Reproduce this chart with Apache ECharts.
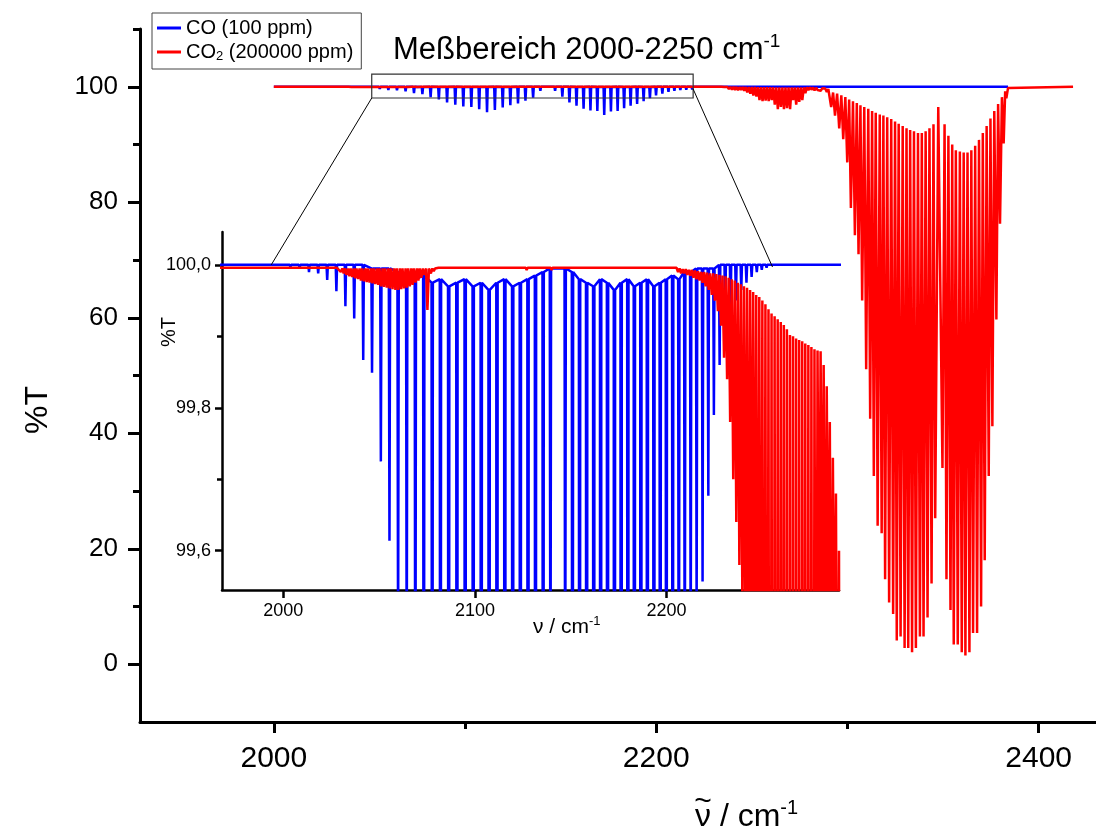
<!DOCTYPE html>
<html><head><meta charset="utf-8">
<script src="https://cdn.jsdelivr.net/npm/echarts@6/dist/echarts.min.js"></script>
<style>html,body{margin:0;padding:0;background:#fff}#c{width:1096px;height:831px}</style>
</head><body><div id="c"></div>
<script>
// ---------- DATA ----------
// CO (100 ppm): line centres (cm-1), transmittance at line centre (%T), level at line shoulders (%T)
const coWn = [1993.9,1998.8,2003.7,2008.5,2013.4,2018.2,2022.9,2027.7,2032.4,2037.0,2041.7,2046.3,2050.9,2055.4,2059.9,2064.4,2068.9,2073.3,2077.7,2082.0,2086.3,2090.6,2094.9,2099.1,2103.3,2107.4,2111.5,2115.6,2119.7,2123.7,2127.7,2131.6,2135.6,2139.4,
  2147.1,2150.9,2154.6,2158.3,2162.0,2165.6,2169.2,2172.8,2176.3,2179.8,2183.2,2186.6,2190.0,2193.4,2196.7,2199.9,2203.2,2206.4,2209.5,2212.6,2215.7,2218.8,2221.8,2224.7,2227.7,2230.6,2233.4,2236.2,2239.0,2241.7,2244.4,2247.1,2249.7,2252.2,2254.8];
const coMin = [99.998,99.998,99.997,99.995,99.99,99.988,99.979,99.963,99.942,99.925,99.867,99.849,99.725,99.614,99.45,99.4,99.19,98.9,98.7,98.2,97.8,97.3,96.9,96.6,96.5,96.1,95.6,96.0,96.4,96.8,97.1,97.6,98.1,99.3,
  99.3,98.3,97.3,96.7,96.2,95.9,95.8,95.1,95.7,95.8,96.3,96.7,97.0,97.5,98.0,98.5,98.8,99.1,99.3,99.42,99.5,99.557,99.677,99.79,99.86,99.9,99.93,99.95,99.965,99.975,99.983,99.99,99.993,99.996,99.998];
const coTop = [100,100,100,100,100,100,100,100,100,100,100,99.995,99.995,99.995,99.99,99.985,99.98,99.985,99.975,99.98,99.97,99.975,99.98,99.97,99.975,99.965,99.975,99.98,99.97,99.975,99.98,99.985,99.99,99.995,
  99.995,99.99,99.98,99.975,99.97,99.98,99.975,99.965,99.975,99.98,99.97,99.975,99.98,99.97,99.975,99.98,99.985,99.98,99.99,99.99,99.995,99.995,99.995,99.995,100,100,100,100,100,100,100,100,100,100,100];
const coStart = [1960, 100];
const coMainStart = [2000, 100];
const coEnd = [2384, 100];

// CO2 (200000 ppm): the trace as read, wavenumber (cm-1) and %T
const co2Wn = [1960,2000,2028,
  2030.0,2030.8,2031.5,2032.2,2033.0,2033.8,2034.5,2035.2,2036.0,2036.8,2037.5,2038.2,2039.0,2039.8,2040.5,2041.2,2042.0,2042.8,2043.5,2044.2,2045.0,2045.8,2046.5,2047.2,2048.0,2048.8,2049.5,2050.2,
  2051.0,2051.8,2052.5,2053.2,2054.0,2054.8,2055.5,2056.2,2057.0,2057.8,2058.5,2059.2,2060.0,2060.8,2061.5,2062.2,2063.0,2063.8,2064.5,2065.2,2066.0,2066.8,2067.5,2068.2,2069.0,2069.8,2070.5,2071.2,
  2072.0,2072.8,2073.5,2074.5,2075.2,2076.0,2077.0,2077.8,2078.5,2079.2,2080.0,2081.0,
  2126.5,2127.0,2127.5,2139.5,2140.0,2140.5,2205.2,
  2206.0,2206.8,2207.6,2208.4,2209.2,2210.0,2210.8,2211.6,2212.4,2213.2,2214.0,2214.8,2215.6,2216.4,2217.2,2218.0,2218.8,2219.6,2220.4,2221.2,2222.0,2222.8,2223.6,2224.4,2225.2,2226.0,2226.8,2227.6,2228.4,2229.2,
  2230.0,2230.8,2231.6,2232.4,2233.2,2234.0,2234.8,2235.6,2236.4,2237.2,2238.0,2238.8,2239.6,2240.4,2241.2,2242.0,2242.8,2243.6,2244.4,2245.2,2246.0,2246.8,2247.6,2248.4,2249.2,2250.0,2250.8,2251.6,2252.4,2253.2,
  2254.0,2254.8,2255.6,2256.4,2257.2,2258.0,2258.8,2259.6,2260.4,2261.2,2262.0,2262.8,2263.6,2264.4,2265.2,2266.0,2266.8,2267.6,2268.4,2269.2,2270.0,2270.8,2271.6,2272.4,2273.2,2274.0,2274.8,2275.6,2276.4,2277.2,
  2278.0,2278.8,2279.6,2280.4,2281.2,2282.0,2282.8,2283.6,2284.4,2285.2,2286.0,2286.8,2287.6,2288.4,2289.2,2290.0,
  2291.5,2292.5,2293.5,2294.6,2295.7,2296.8,2297.8,2298.9,2299.9,2300.9,2301.8,2302.9,2303.9,2304.9,2305.8,2306.8,2307.7,2308.8,2309.8,2310.9,2311.9,2312.9,2313.8,2314.8,2315.8,2316.9,2317.9,2318.8,2319.7,2320.8,
  2321.8,2322.9,2323.9,2324.9,2325.8,2326.8,2327.8,2328.9,2329.9,2330.9,2331.8,2332.8,2333.8,2334.8,2335.8,2336.9,2337.9,2338.9,2339.8,2340.9,2341.9,2342.9,2344.0,2345.0,2345.9,2347.5,2349.7,2350.8,2351.8,2352.8,
  2353.9,2354.8,2355.6,2356.7,2357.7,2358.8,2359.8,2360.8,2361.7,2362.8,2363.8,2364.8,2365.7,2366.8,2367.8,2368.8,2369.9,2370.8,2371.8,2372.8,2373.9,2374.8,2375.8,2376.8,2377.9,2378.8,2379.8,2380.8,2381.7,2382.5,
  2383.1,2384.0,2385.0,2418.0];
const co2T = [99.996,99.996,99.996,
  99.990,99.995,99.988,99.995,99.986,99.995,99.984,99.995,99.983,99.995,99.981,99.995,99.980,99.995,99.978,99.995,99.977,99.995,99.976,99.995,99.975,99.995,99.974,99.995,99.973,99.995,99.972,99.995,
  99.970,99.995,99.969,99.995,99.968,99.995,99.967,99.995,99.966,99.995,99.965,99.995,99.965,99.995,99.966,99.995,99.967,99.995,99.968,99.995,99.970,99.995,99.972,99.995,99.975,99.995,99.978,99.995,
  99.982,99.995,99.986,99.995,99.937,99.995,99.988,99.995,99.991,99.995,99.993,99.996,
  99.996,99.993,99.996,99.996,99.993,99.996,99.996,
  99.990,99.995,99.988,99.994,99.988,99.994,99.986,99.993,99.985,99.993,99.982,99.992,99.980,99.991,99.978,99.990,99.975,99.990,99.970,99.989,99.965,99.988,99.958,99.988,99.950,99.987,99.935,99.986,99.915,99.985,
  99.870,99.984,99.840,99.982,99.780,99.980,99.700,99.978,99.640,99.975,99.580,99.973,99.50,99.970,99.45,99.968,99.40,99.965,99.45,99.962,99.30,99.958,99.00,99.955,98.80,99.950,98.50,99.945,98.30,99.938,
  97.70,99.932,97.50,99.928,97.60,99.924,97.50,99.920,97.70,99.916,96.90,99.910,96.10,99.902,96.50,99.900,96.10,99.897,96.30,99.895,96.10,99.893,97.70,99.890,96.90,99.888,97.40,99.885,97.70,99.882,
  98.90,99.880,99.40,99.879,99.50,99.860,99.35,99.830,99.45,99.780,99.30,99.730,99.40,99.680,99.10,99.600,
  96.5,99.0,95.0,98.8,92.8,98.5,90.9,98.2,86.9,97.8,79.0,97.5,74.3,97.2,71.0,96.8,63.0,96.5,51.1,96.2,42.5,95.8,32.6,95.5,24.0,95.2,22.7,95.0,14.7,94.7,
  10.7,94.4,8.7,94.0,4.1,93.6,4.8,93.2,2.8,92.8,2.8,92.5,2.1,92.3,2.8,92.0,4.8,92.0,4.8,92.3,8.1,92.8,14.0,93.5,25.3,96.5,34.0,93.5,14.7,91.5,
  9.4,90.0,3.4,89.0,3.4,88.8,2.1,88.6,1.5,88.6,2.1,89.0,5.4,89.8,5.4,90.8,10.0,92.0,18.0,93.2,32.6,94.5,41.2,95.8,59.7,97.0,76.3,98.2,90.2,99.2,
  98.0,99.8,100.0,100.0];

// axis ticks / labels
const mainXMajor = [2000, 2200, 2400];
const mainXMinor = [2100, 2300];
const mainYMajor = [0, 20, 40, 60, 80, 100];
const mainYMinor = [10, 30, 50, 70, 90, 110];
const insetXMajor = [2000, 2100, 2200];
const insetYMajor = [99.6, 99.8, 100.0];
const insetYMinor = [99.7, 99.9];

const seriesNames = ['CO', 'CO2'];
// ---------------------------------------------------

const F = 'Liberation Sans, Arial, Helvetica, sans-serif';
const BLUE = '#0000ff', RED = '#ff0000';

const bluePts = [coStart];
for (let i = 0; i < coWn.length; i++) {
  bluePts.push([coWn[i] - 0.35, coTop[i]], [coWn[i], coMin[i]], [coWn[i] + 0.35, coTop[i]]);
}
bluePts.push(coEnd);
const redPts = co2Wn.map((w, i) => [w, co2T[i]]);
const mainBlue = [coMainStart].concat(bluePts.filter(p => p[0] > coMainStart[0]));
const mainRed = redPts.filter(p => p[0] >= 2000);

function xAx(grid, min, max, ticks, len, w, labels, fs, margin, showLine) {
  return {
    type: 'value', gridIndex: grid, min: min, max: max, position: 'bottom', offset: 0,
    axisLine: { show: showLine, onZero: false, lineStyle: { color: '#000', width: w } },
    axisTick: { show: true, inside: false, customValues: ticks, length: len, lineStyle: { color: '#000', width: w } },
    axisLabel: labels ? { show: true, customValues: ticks, fontSize: fs, margin: margin, color: '#000', fontFamily: F, formatter: v => String(v) } : { show: false },
    splitLine: { show: false }, minorTick: { show: false }
  };
}
function yAx(grid, min, max, ticks, len, w, labels, fs, margin, showLine, fmt) {
  return {
    type: 'value', gridIndex: grid, min: min, max: max, position: 'left', offset: 0,
    axisLine: { show: showLine, onZero: false, lineStyle: { color: '#000', width: w } },
    axisTick: { show: true, inside: false, customValues: ticks, length: len, lineStyle: { color: '#000', width: w } },
    axisLabel: labels ? { show: true, customValues: ticks, fontSize: fs, margin: margin, color: '#000', fontFamily: F, formatter: fmt } : { show: false },
    splitLine: { show: false }, minorTick: { show: false }
  };
}

const option = {
  animation: false,
  backgroundColor: '#fff',
  textStyle: { fontFamily: F },
  grid: [
    { left: 140, top: 29, width: 956, height: 693, containLabel: false, outerBoundsMode: 'none' },
    { left: 222, top: 232, width: 617, height: 358, containLabel: false, outerBoundsMode: 'none' }
  ],
  xAxis: [
    xAx(0, 1930, 2430, mainXMajor, 11, 3, true, 30, 22, true),
    xAx(0, 1930, 2430, mainXMinor, 7, 3, false, 0, 0, false),
    xAx(1, 1968, 2290, insetXMajor, 8, 2.5, true, 18, 12, true)
  ],
  yAxis: [
    yAx(0, -10, 110, mainYMajor, 12, 3, true, 26, 22, true, v => String(Math.round(v))),
    yAx(0, -10, 110, mainYMinor, 7, 3, false, 0, 0, false),
    yAx(1, 99.545, 100.046, insetYMajor, 7, 2.5, true, 18, 11, true, v => v.toFixed(1).replace('.', ',')),
    yAx(1, 99.545, 100.046, insetYMinor, 5, 2.5, false, 0, 0, false)
  ],
  legend: {
    show: true, left: 152, top: 13, orient: 'vertical', padding: [5, 8, 6, 5], itemGap: 4,
    itemWidth: 24, itemHeight: 3, icon: 'rect',
    borderColor: '#444', borderWidth: 1, backgroundColor: '#fff',
    data: seriesNames,
    formatter: n => n === 'CO2' ? '{t|CO}{s|2}{t| (200000 ppm)}' : '{t|CO (100 ppm)}',
    textStyle: {
      color: '#000', fontFamily: F, fontSize: 20,
      rich: { t: { fontSize: 20, lineHeight: 22, fontFamily: F, color: '#000' }, s: { fontSize: 13, lineHeight: 12, verticalAlign: 'bottom', fontFamily: F, color: '#000' } }
    }
  },
  series: [
    { name: 'CO', type: 'line', xAxisIndex: 0, yAxisIndex: 0, data: mainBlue, color: BLUE, symbol: 'none', showSymbol: false, lineStyle: { color: BLUE, width: 2.5 }, clip: true, z: 2 },
    { name: 'CO2', type: 'line', xAxisIndex: 0, yAxisIndex: 0, data: mainRed, color: RED, symbol: 'none', showSymbol: false, lineStyle: { color: RED, width: 2.5 }, clip: true, z: 3 },
    { name: 'CO', type: 'line', xAxisIndex: 2, yAxisIndex: 2, data: bluePts, color: BLUE, symbol: 'none', showSymbol: false, lineStyle: { color: BLUE, width: 2.5 }, clip: true, z: 4 },
    { name: 'CO2', type: 'line', xAxisIndex: 2, yAxisIndex: 2, data: redPts, color: RED, symbol: 'none', showSymbol: false, lineStyle: { color: RED, width: 2.5 }, clip: true, z: 5 }
  ]
};

const chart = echarts.init(document.getElementById('c'), null, { renderer: 'canvas', width: 1096, height: 831 });
chart.setOption(option);

// zoom frame in the main plot and connectors to the inset (data coordinates)
const frame = [2051.2, 98.05, 2219.3, 102.2];
const insetLeftEnd = [1993.7, 100.0];
const insetRightEnd = [2255.3, 99.997];
const px = (g, v) => chart.convertToPixel({ gridIndex: g }, v);
const fa = px(0, [frame[0], frame[3]]);
const fb = px(0, [frame[2], frame[1]]);
const lA = px(0, [frame[0], frame[1]]);
const lB = px(1, insetLeftEnd);
const rA = px(0, [frame[2], 99.6]);
const rB = px(1, insetRightEnd);

chart.setOption({
  graphic: [
    { type: 'rect', z: 10, shape: { x: fa[0], y: fa[1], width: fb[0] - fa[0], height: fb[1] - fa[1] }, style: { fill: 'none', stroke: '#333', lineWidth: 1.2 } },
    { type: 'line', z: 10, shape: { x1: lA[0], y1: lA[1], x2: lB[0], y2: lB[1] }, style: { stroke: '#000', lineWidth: 1 } },
    { type: 'line', z: 10, shape: { x1: rA[0], y1: rA[1], x2: rB[0], y2: rB[1] }, style: { stroke: '#000', lineWidth: 1 } },
    { type: 'text', z: 10, x: 393, y: 50, style: { text: '{a|Meßbereich 2000-2250 cm}{b|-1}', verticalAlign: 'middle', align: 'left',
      rich: { a: { fontSize: 31, lineHeight: 36, fontFamily: F, fill: '#000' }, b: { fontSize: 19, lineHeight: 16, verticalAlign: 'top', fontFamily: F, fill: '#000' } } } },
    { type: 'text', z: 10, x: 38, y: 410, rotation: Math.PI / 2, style: { text: '%T', fontSize: 32, fontFamily: F, fill: '#000', align: 'center', verticalAlign: 'middle' } },
    { type: 'text', z: 10, x: 695, y: 817, style: { text: '{a|\u03BD / cm}{b|-1}', verticalAlign: 'middle', align: 'left',
      rich: { a: { fontSize: 32, lineHeight: 38, fontFamily: F, fill: '#000' }, b: { fontSize: 20, lineHeight: 16, verticalAlign: 'top', fontFamily: F, fill: '#000' } } } },
    { type: 'text', z: 10, x: 703, y: 802, style: { text: '~', fontSize: 30, fontFamily: F, fill: '#000', align: 'center', verticalAlign: 'middle' } },
    { type: 'text', z: 10, x: 169, y: 332, rotation: Math.PI / 2, style: { text: '%T', fontSize: 20, fontFamily: F, fill: '#000', align: 'center', verticalAlign: 'middle' } },
    { type: 'text', z: 10, x: 533, y: 627, style: { text: '{a|\u03BD / cm}{b|-1}', verticalAlign: 'middle', align: 'left',
      rich: { a: { fontSize: 21, lineHeight: 25, fontFamily: F, fill: '#000' }, b: { fontSize: 13, lineHeight: 11, verticalAlign: 'top', fontFamily: F, fill: '#000' } } } }
  ]
});
</script>
</body></html>
